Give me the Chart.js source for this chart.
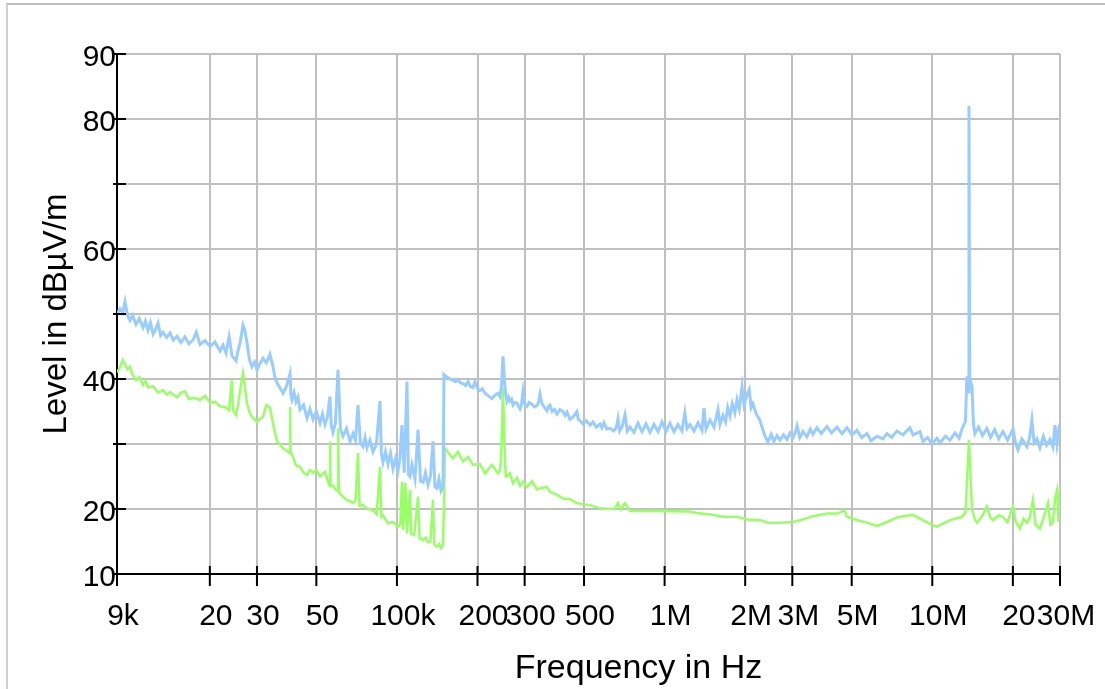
<!DOCTYPE html>
<html>
<head>
<meta charset="utf-8">
<title>Level vs frequency</title>
<script src="https://cdn.jsdelivr.net/npm/chart.js@4.4.1/dist/chart.umd.min.js"></script>
<style>
  html, body { margin: 0; padding: 0; background: #fff; }
  body { position: relative; width: 1105px; height: 689px; overflow: hidden; }
  #frame { position: absolute; left: 6px; top: 3px; width: 1200px; height: 800px;
           border-left: 2px solid #cfcfcf; border-top: 2px solid #bdbdbd; }
  #wrap { position: absolute; left: 0; top: 0; width: 1105px; height: 689px; }
</style>
</head>
<body>
<div id="frame"></div>
<div id="wrap"><canvas id="levelChart" width="1105" height="689"></canvas></div>
<script>
// axis ticks and the text printed at them
var freqTicks = [9e3, 2e4, 3e4, 5e4, 1e5, 2e5, 3e5, 5e5, 1e6, 2e6, 3e6, 5e6, 1e7, 2e7, 3e7];
var freqTickLabels = ["9k", "20", "30", "50", "100k", "200", "300", "500", "1M", "2M", "3M", "5M", "10M", "20", "30M"];
var levelTicks = [10, 20, 30, 40, 50, 60, 70, 80, 90];
var levelTickLabels = ["10", "20", "", "40", "", "60", "", "80", "90"];

// blue trace (peak), frequency in Hz / level in dBuV/m
var peakFreq = [
  9000, 9234, 9450, 9640, 9850, 10060, 10300, 10600, 10900, 11260,
  11500, 11750, 12000, 12270, 12540, 12810, 13100, 13370, 13800, 14200,
  14600, 15080, 15600, 16150, 16700, 17300, 17800, 18380, 19200, 20030,
  20900, 21830, 22400, 22990, 23600, 24200, 25050, 25500, 25930, 26600,
  27000, 27530, 28100, 28740, 29400, 30010, 30800, 31600, 32500, 33550,
  34420, 35000, 35640, 36500, 37540, 38700, 39860, 40200, 40550, 41300,
  41990, 42700, 43440, 44800, 46140, 47300, 48580, 50000, 51590, 52700,
  53860, 55000, 56220, 56800, 57690, 58900, 60230, 61500, 62870, 64800,
  66780, 68530, 70000, 71540, 73000, 74660, 76000, 77290, 79300, 81380,
  83800, 86430, 87500, 88690, 90600, 92600, 94600, 96680, 98800, 100900,
  102500, 104400, 106500, 109000, 110400, 111900, 113800, 116800, 119900, 122500,
  125200, 127800, 130600, 133400, 136300, 138700, 141100, 143600, 146100, 148600,
  149900, 153800, 158000, 161900, 165500, 169000, 172700, 176500, 180500, 184300,
  188300, 192300, 195700, 200000, 204300, 208600, 213300, 219600, 226500, 232300,
  238500, 242600, 246000, 249000, 252000, 255000, 257800, 261000, 264400, 268000,
  271400, 276000, 280900, 284600, 288300, 292000, 295700, 300000, 306100, 312000,
  319600, 326000, 333600, 338000, 342400, 348300, 356000, 363600, 368000, 373100,
  380000, 388000, 396200, 406000, 417100, 425000, 431700, 443000, 456000, 470500,
  476000, 485000, 495500, 510000, 526300, 540000, 556000, 573600, 583000, 593600,
  608000, 625100, 645000, 660000, 669600, 680000, 693100, 711200, 725000, 742400,
  768000, 795000, 823000, 852000, 882000, 913000, 945000, 978000, 1012000, 1047000,
  1084000, 1122000, 1161000, 1190000, 1212000, 1244000, 1288000, 1333000, 1379000, 1403000,
  1428000, 1478000, 1529000, 1583000, 1610000, 1652000, 1690000, 1720000, 1755000, 1790000,
  1830000, 1864000, 1900000, 1946000, 1980000, 2031000, 2070000, 2105000, 2138000, 2200000,
  2272000, 2320000, 2372000, 2434000, 2500000, 2560000, 2630000, 2700000, 2780000, 2866000,
  2940000, 3018000, 3080000, 3123000, 3200000, 3287000, 3400000, 3500000, 3583000, 3709000,
  3850000, 4041000, 4200000, 4404000, 4600000, 4800000, 5010000, 5231000, 5450000, 5701000,
  5900000, 6212000, 6540000, 6770000, 7050000, 7378000, 7769000, 8251000, 8467000, 8992000,
  9225000, 9600000, 9972000, 10410000, 10680000, 11200000, 11640000, 12150000, 12600000, 12910000,
  13300000, 13470000, 13600000, 13710000, 13800000, 14070000, 14250000, 14430000, 14900000, 15400000,
  16000000, 16500000, 17100000, 17700000, 18360000, 19100000, 20020000, 20500000, 20900000, 21600000,
  22570000, 23100000, 23560000, 24000000, 24600000, 25240000, 26000000, 26700000, 27510000, 28230000,
  28730000, 29220000, 29600000, 30000000
];
var peakLevel = [
  50.0, 50.8, 50.2, 51.9, 49.8, 49.0, 49.8, 48.4, 49.3, 47.9,
  48.9, 47.5, 48.7, 46.9, 47.6, 48.6, 46.7, 47.2, 46.4, 47.1,
  46.0, 46.6, 45.6, 46.5, 45.4, 46.0, 47.2, 45.3, 45.9, 45.0,
  45.7, 44.3, 45.2, 44.0, 46.5, 43.6, 42.8, 44.4, 45.5, 48.3,
  47.6, 45.6, 43.0, 41.9, 42.6, 41.4, 42.4, 43.2, 42.5, 43.8,
  41.9, 40.3, 39.4, 38.7, 37.8, 38.9, 40.8, 37.5, 36.8, 37.9,
  36.5, 37.2, 35.3, 36.0, 34.0, 35.4, 33.8, 35.0, 33.2, 34.6,
  33.0, 34.2, 37.3, 33.0, 31.8, 33.2, 41.4, 32.3, 31.2, 32.4,
  30.4, 31.6, 30.6, 36.0, 30.2, 29.6, 31.0, 29.4, 30.6, 28.8,
  29.9, 36.6, 28.4, 27.2, 28.8, 26.9, 28.6, 26.2, 27.7, 25.9,
  27.6, 32.9, 25.6, 39.6, 25.3, 25.0, 26.8, 24.6, 32.2, 24.3,
  24.1, 25.6, 23.7, 25.0, 30.4, 23.4, 23.2, 24.6, 22.8, 23.4,
  40.7, 40.3, 40.0, 39.8, 39.6, 39.9, 39.4, 39.3, 39.0, 39.6,
  38.8, 38.7, 39.6, 38.5, 38.2, 38.5, 37.8, 37.4, 37.0, 37.5,
  37.8, 37.3, 39.0, 43.5, 40.0, 37.5, 36.6, 37.2, 36.6, 36.9,
  36.0, 36.4, 36.3, 35.8, 35.4, 36.1, 38.1, 36.2, 35.8, 36.4,
  36.1, 35.7, 35.9, 36.4, 37.7, 36.2, 35.6, 35.1, 35.8, 36.0,
  35.0, 35.3, 34.6, 35.3, 35.0, 34.4, 34.9, 33.8, 34.2, 35.0,
  33.8, 33.5, 33.1, 33.6, 32.9, 33.4, 32.6, 33.1, 32.5, 33.3,
  32.3, 32.4, 32.0, 32.5, 33.9, 32.0, 32.6, 34.5, 32.0, 32.6,
  31.8, 33.2, 31.9, 33.1, 31.8, 33.0, 31.9, 33.4, 31.9, 33.2,
  31.9, 33.0, 32.0, 34.8, 32.4, 33.0, 32.0, 33.3, 32.1, 35.5,
  32.3, 33.7, 32.6, 35.3, 33.0, 34.4, 33.4, 35.6, 34.3, 36.2,
  34.8, 36.8, 35.4, 38.8, 36.0, 37.6, 38.4, 35.6, 36.2, 34.6,
  33.6, 32.4, 31.2, 30.3, 31.5, 30.4, 31.3, 30.6, 31.4, 30.7,
  31.7, 31.0, 31.8, 32.8, 31.0, 31.9, 31.1, 32.3, 31.5, 32.5,
  31.6, 32.7, 31.7, 32.6, 31.6, 32.5, 31.4, 32.1, 31.0, 31.6,
  30.5, 31.2, 30.8, 31.6, 31.0, 32.0, 31.4, 32.5, 31.4, 31.9,
  30.4, 31.0, 30.0, 30.9, 30.2, 31.2, 30.6, 31.7, 30.9, 32.3,
  33.5, 40.4, 38.0, 82.0, 40.0, 38.8, 33.0, 31.6, 32.6, 31.3,
  32.4, 31.0, 32.2, 30.8, 31.9, 30.6, 32.3, 30.0, 29.1, 30.8,
  29.6, 31.0, 33.7, 30.2, 30.8, 29.4, 31.2, 29.8, 30.7, 29.5,
  32.9, 30.0, 31.8, 30.4
];

// green trace (average), frequency in Hz / level in dBuV/m
var avgFreq = [
  9000, 9234, 9450, 9640, 9850, 10060, 10300, 10600, 10900, 11260,
  11500, 11750, 12270, 12810, 13370, 13800, 14200, 15080, 15600, 16150,
  16700, 17300, 18380, 19200, 20030, 20900, 21830, 22990, 23600, 24140,
  24400, 25050, 25500, 26000, 26600, 27000, 27530, 28100, 28740, 30010,
  30800, 31600, 32500, 33550, 34420, 35640, 36500, 37540, 38700, 39700,
  39860, 40100, 40550, 41990, 43440, 44800, 46140, 47300, 48580, 50000,
  51590, 53860, 55000, 56000, 56220, 56500, 57690, 58900, 59800, 60230,
  60800, 62870, 64800, 66780, 68530, 70000, 71540, 72500, 74660, 77290,
  81380, 84000, 86430, 87500, 88690, 92600, 96680, 100900, 103000, 104400,
  105500, 107500, 109000, 111900, 113000, 116000, 119900, 121500, 125200, 128000,
  130600, 133400, 136300, 137800, 141100, 144000, 146100, 148600, 149900, 151200,
  161900, 169000, 176500, 184300, 192300, 204300, 213300, 226500, 238500, 242600,
  245000, 249000, 252000, 255000, 257800, 264400, 271400, 280900, 288300, 295700,
  306100, 319600, 333600, 342400, 363600, 373100, 396200, 417100, 443000, 470500,
  526300, 573600, 650000, 669600, 685000, 711200, 742400, 936000, 1244000, 1321000,
  1516000, 1652000, 1864000, 2031000, 2272000, 2434000, 2698000, 3018000, 3287000, 3583000,
  4041000, 4404000, 4700000, 4800000, 5231000, 5701000, 6212000, 6770000, 7378000, 7769000,
  8467000, 9225000, 9972000, 10410000, 11640000, 12910000, 13300000, 13470000, 13710000, 14070000,
  14430000, 14680000, 15400000, 16000000, 16500000, 16850000, 17700000, 18360000, 19100000, 20020000,
  20500000, 21260000, 21900000, 22570000, 23100000, 23770000, 24300000, 25240000, 26000000, 27050000,
  27600000, 28230000, 28730000, 29220000, 29600000, 30000000
];
var avgLevel = [
  41.0, 41.8, 42.9, 42.2, 41.5, 41.9, 40.6, 39.8, 40.3, 39.1,
  39.7, 38.7, 38.9, 37.9, 38.3, 37.6, 38.0, 37.2, 37.9, 38.1,
  36.9, 37.1, 36.8, 37.4, 36.3, 36.5, 35.8, 35.6, 35.2, 39.8,
  35.2, 34.5, 36.0, 38.5, 40.9, 39.0, 36.3, 35.0, 34.2, 33.4,
  33.9, 34.2, 36.0, 35.6, 33.2, 30.4, 30.0, 29.3, 29.0, 28.6,
  35.7, 28.5, 28.4, 26.7, 26.5, 25.6, 25.2, 26.0, 25.6, 26.0,
  25.0, 25.7, 24.5, 23.6, 30.4, 23.5, 23.6, 23.0, 22.8, 32.4,
  22.5, 21.9, 21.4, 21.2, 20.9, 21.3, 28.6, 20.5, 20.6, 20.1,
  19.8, 19.2, 26.5, 18.8, 19.0, 17.8, 18.0, 17.3, 17.7, 24.2,
  16.8, 24.0, 16.3, 22.9, 16.2, 16.0, 21.9, 15.5, 15.2, 15.6,
  14.9, 15.0, 21.4, 14.5, 14.2, 14.6, 14.0, 14.3, 21.0, 29.3,
  27.8, 28.8, 27.3, 28.0, 26.8, 26.9, 25.5, 26.8, 25.5, 26.0,
  27.8, 38.6, 30.0, 25.0, 25.0, 25.5, 24.0, 24.8, 23.6, 24.2,
  23.4, 24.3, 23.0, 23.2, 23.4, 22.6, 22.2, 21.6, 21.5, 20.9,
  20.6, 20.1, 20.0, 20.9, 19.9, 20.9, 19.7, 19.7, 19.6, 19.4,
  19.1, 18.8, 18.8, 18.4, 18.3, 17.9, 17.9, 18.0, 18.4, 18.9,
  19.3, 19.3, 19.8, 18.8, 18.3, 17.9, 17.4, 18.0, 18.7, 18.9,
  19.1, 18.3, 17.6, 17.3, 18.3, 18.8, 19.5, 24.0, 30.6, 19.9,
  18.4, 17.9, 19.0, 20.4, 18.6, 18.3, 19.0, 18.8, 18.0, 20.4,
  18.0, 17.0, 18.5, 17.9, 18.6, 21.4, 17.6, 17.0, 18.6, 20.9,
  17.6, 17.9, 21.6, 22.9, 18.0, 23.4
];

var FONT = "'Liberation Sans', Arial, Helvetica, sans-serif";

function toPoints(freqs, levels) {
  return freqs.map(function (f, i) {
    return { x: f, y: levels[i] };
  });
}

// short black tick marks that cross the axis lines
var crossTicks = {
  id: "crossTicks",
  afterDatasetsDraw: function (chart) {
    var ctx = chart.ctx;
    var xs = chart.scales.x;
    var ys = chart.scales.y;
    ctx.save();
    ctx.strokeStyle = "#000";
    ctx.lineWidth = 2;
    ctx.beginPath();
    levelTicks.forEach(function (v) {
      var py = ys.getPixelForValue(v);
      ctx.moveTo(xs.left - 4, py);
      ctx.lineTo(xs.left + 9, py);
    });
    freqTicks.forEach(function (f) {
      var px = xs.getPixelForValue(f);
      ctx.moveTo(px, ys.bottom - 8);
      ctx.lineTo(px, ys.bottom + 12);
    });
    ctx.stroke();
    ctx.restore();
  },
};

// x axis title sits a bit right of the plot centre in the original
var freqTitle = {
  id: "freqTitle",
  afterDraw: function (chart) {
    var a = chart.chartArea;
    var ctx = chart.ctx;
    ctx.save();
    ctx.font = "34px " + FONT;
    ctx.fillStyle = "#000";
    ctx.textAlign = "center";
    ctx.textBaseline = "middle";
    ctx.fillText("Frequency in Hz", (a.left + a.right) / 2 + 50, chart.height - 20);
    ctx.restore();
  },
};

var ctx = document.getElementById("levelChart").getContext("2d");

var levelChart = new Chart(ctx, {
  type: "line",
  data: {
    datasets: [
      {
        label: "Peak",
        data: toPoints(peakFreq, peakLevel),
        borderColor: "#99ccff",
        borderWidth: 3,
        pointRadius: 0,
        tension: 0,
        fill: false,
      },
      {
        label: "Average",
        data: toPoints(avgFreq, avgLevel),
        borderColor: "#99ff66",
        borderWidth: 2.5,
        pointRadius: 0,
        tension: 0,
        fill: false,
      },
    ],
  },
  plugins: [crossTicks, freqTitle],
  options: {
    responsive: false,
    animation: false,
    events: [],
    layout: {
      padding: { left: 0, top: 54, right: 45, bottom: 0 },
    },
    plugins: {
      legend: { display: false },
      tooltip: { enabled: false },
    },
    scales: {
      x: {
        type: "logarithmic",
        min: 9000,
        max: 30000000,
        afterBuildTicks: function (scale) {
          scale.ticks = freqTicks.map(function (v) {
            return { value: v };
          });
        },
        afterFit: function (scale) {
          scale.height = 115;
          scale.paddingLeft = 0;
          scale.paddingRight = 0;
        },
        grid: { color: "#c0c0c0", lineWidth: 2, drawTicks: false },
        border: { color: "#000", width: 2 },
        ticks: {
          autoSkip: false,
          maxRotation: 0,
          minRotation: 0,
          padding: 25,
          labelOffset: 6,
          color: "#000",
          font: { family: FONT, size: 30 },
          callback: function (value, index) {
            return freqTickLabels[index];
          },
        },
      },
      y: {
        type: "linear",
        min: 10,
        max: 90,
        afterBuildTicks: function (scale) {
          scale.ticks = levelTicks.map(function (v) {
            return { value: v };
          });
        },
        afterFit: function (scale) {
          scale.width = 117;
          scale.paddingTop = 0;
          scale.paddingBottom = 0;
        },
        grid: { color: "#c0c0c0", lineWidth: 2, drawTicks: false },
        border: { color: "#000", width: 2 },
        ticks: {
          padding: 1,
          labelOffset: 4,
          color: "#000",
          font: { family: FONT, size: 30 },
          callback: function (value, index) {
            return levelTickLabels[index];
          },
        },
        title: {
          display: true,
          text: "Level in dBµV/m",
          color: "#000",
          font: { family: FONT, size: 33 },
          padding: { top: 37, bottom: 0 },
        },
      },
    },
  },
});
</script>
</body>
</html>
